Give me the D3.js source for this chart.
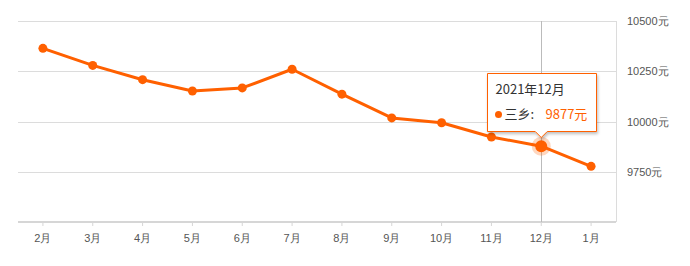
<!DOCTYPE html>
<html><head><meta charset="utf-8">
<script src="https://cdn.jsdelivr.net/npm/d3@7"></script>
<style>
body{margin:0;background:#fff;}
svg{display:block;font-family:"Microsoft YaHei","Noto Sans CJK SC",sans-serif;}
</style></head>
<body><svg id="c" width="690" height="266"></svg>
<script>
const months = ["2月","3月","4月","5月","6月","7月","8月","9月","10月","11月","12月","1月"];
const prices = [10364,10279,10208,10152,10167,10260,10136,10018,9994,9923,9877,9777];
const yTicks = [9750,10000,10250,10500];
const seriesName = "三乡";
const tipTitle = "2021年12月";
const activeIndex = 10;

const svg = d3.select("#c");
const L = 18, R = 616, T = 21, B = 222;
const x = d3.scaleBand().domain(months).range([L, R]);
const y = d3.scaleLinear().domain([9500, 10500]).range([B, T]);
const cx = d => x(d) + x.bandwidth()/2;

// grid lines
svg.append("g").selectAll("line").data(yTicks).join("line")
  .attr("x1", L).attr("x2", R).attr("y1", d => Math.round(y(d))+0.5).attr("y2", d => Math.round(y(d))+0.5)
  .attr("stroke", "#dcdcdc").attr("stroke-width", 1);

// right axis
const ya = d3.axisRight(y).tickValues(yTicks).tickSize(0).tickPadding(11).tickFormat(d => d + "元");
const gy = svg.append("g").attr("transform", `translate(${R},0)`).call(ya);
gy.select(".domain").attr("stroke", "#dcdcdc").attr("d", `M0.5,${T}V${B}`);
gy.selectAll("text").attr("fill", "#555").attr("font-size", 11);

// bottom axis
const xa = d3.axisBottom(x).tickSize(4).tickPadding(8);
const gx = svg.append("g").attr("transform", `translate(0,${B})`).call(xa);
gx.select(".domain").attr("stroke", "#d6d6d6").attr("stroke-width", 2).attr("d", `M${L},0H${R}`);
gx.selectAll(".tick line").attr("stroke", "#d6d6d6");
gx.selectAll("text").attr("fill", "#555").attr("font-size", 11);

// crosshair
svg.append("line").attr("x1", Math.round(cx(months[activeIndex]))+0.5).attr("x2", Math.round(cx(months[activeIndex]))+0.5)
  .attr("y1", T).attr("y2", B).attr("stroke", "#bbb").attr("stroke-width", 1);

const color = "#ff6000";
const line = d3.line().x((d,i) => cx(months[i])).y(d => y(d));
svg.append("path").datum(prices).attr("d", line).attr("fill", "none")
  .attr("stroke", color).attr("stroke-width", 3).attr("stroke-linejoin", "round");

svg.append("g").selectAll("circle").data(prices).join("circle")
  .attr("cx", (d,i) => cx(months[i])).attr("cy", d => y(d))
  .attr("r", (d,i) => i === activeIndex ? 0 : 4.5).attr("fill", color);

// active point
const ax = cx(months[activeIndex]), ay = y(prices[activeIndex]);
svg.append("circle").attr("cx", ax).attr("cy", ay).attr("r", 9.5).attr("fill", color).attr("opacity", 0.25);
svg.append("circle").attr("cx", ax).attr("cy", ay).attr("r", 6).attr("fill", color);

// tooltip
const defs = svg.append("defs");
const f = defs.append("filter").attr("id","sh").attr("x","-20%").attr("y","-20%").attr("width","140%").attr("height","150%");
f.append("feDropShadow").attr("dx",1).attr("dy",2).attr("stdDeviation",1.5).attr("flood-color","#000").attr("flood-opacity",0.25);
const bx = 487.5, by = 73.5, bw = 109, bh = 58;
const tip = svg.append("g");
tip.append("path")
  .attr("d", `M${bx},${by}H${bx+bw}V${by+bh}H${ax+6}L${ax},${by+bh+6}L${ax-6},${by+bh}H${bx}Z`)
  .attr("fill", "#fff").attr("stroke", color).attr("stroke-width", 1).attr("filter", "url(#sh)");
tip.append("text").attr("x", bx+8).attr("y", by+20).attr("font-size", 13).attr("fill", "#333").text(tipTitle);
tip.append("circle").attr("cx", bx+11).attr("cy", by+41).attr("r", 3.5).attr("fill", color);
tip.append("text").attr("x", bx+17).attr("y", by+45).attr("font-size", 13).attr("fill", "#333").text(seriesName + ":");
tip.append("text").attr("x", bx+58).attr("y", by+45).attr("font-size", 13).attr("fill", color).text(prices[activeIndex] + "元");
</script></body></html>
